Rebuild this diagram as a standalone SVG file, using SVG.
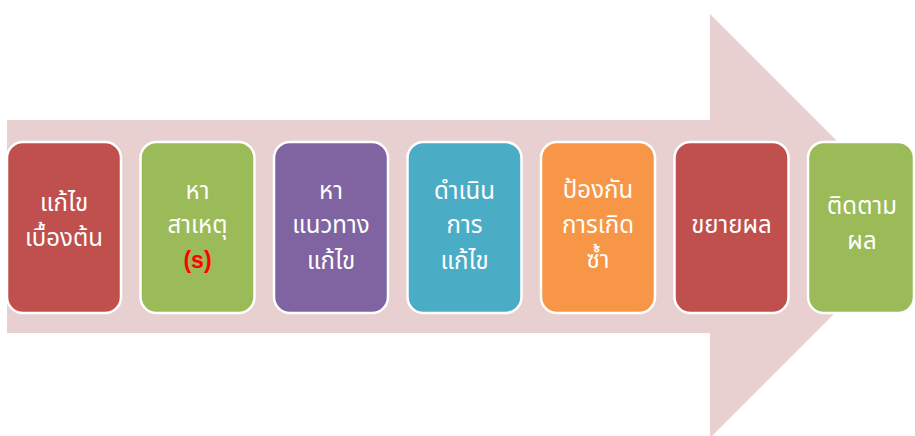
<svg xmlns="http://www.w3.org/2000/svg" width="915" height="436" viewBox="0 0 915 436">
<style>
.box{stroke:#ffffff;stroke-width:2.5}
.t{font-family:"Noto Sans Thai","Noto Sans","DejaVu Sans",sans-serif;font-size:24px;fill:#ffffff;text-anchor:middle}
.s{font-family:"Liberation Sans",Arial,sans-serif;font-size:23px;font-weight:bold;fill:#ff0000;text-anchor:middle}
</style>
<rect width="915" height="436" fill="#ffffff"/>
<g id="arrow">
<polygon points="7,120 710,120 710,14 922,226 710,438 710,333 7,333" fill="#e8cfd0"/>
</g>
<g id="connectors"></g>
<g id="n1">
<rect class="box" x="7" y="142" width="114" height="171" rx="16" fill="#c0504d"/>
<text class="t" x="64" y="211">แก้ไข</text>
<text class="t" x="64" y="246">เบื้องต้น</text>
</g>
<g id="n2">
<rect class="box" x="140.5" y="142" width="114" height="171" rx="16" fill="#9bbb59"/>
<text class="t" x="197.5" y="199">หา</text>
<text class="t" x="197.5" y="233">สาเหตุ</text>
<text class="s" x="197.5" y="268">(s)</text>
</g>
<g id="n3">
<rect class="box" x="274" y="142" width="114" height="171" rx="16" fill="#8064a2"/>
<text class="t" x="331" y="199">หา</text>
<text class="t" x="331" y="233">แนวทาง</text>
<text class="t" x="331" y="269">แก้ไข</text>
</g>
<g id="n4">
<rect class="box" x="407.5" y="142" width="114" height="171" rx="16" fill="#4bacc6"/>
<text class="t" x="464.5" y="199">ดำเนิน</text>
<text class="t" x="464.5" y="233">การ</text>
<text class="t" x="464.5" y="269">แก้ไข</text>
</g>
<g id="n5">
<rect class="box" x="541" y="142" width="114" height="171" rx="16" fill="#f79646"/>
<text class="t" x="598" y="198">ป้องกัน</text>
<text class="t" x="598" y="233">การเกิด</text>
<text class="t" x="598" y="268">ซ้ำ</text>
</g>
<g id="n6">
<rect class="box" x="674.5" y="142" width="114" height="171" rx="16" fill="#c0504d"/>
<text class="t" x="731.5" y="233">ขยายผล</text>
</g>
<g id="n7">
<rect class="box" x="808" y="142" width="106" height="171" rx="16" fill="#9bbb59"/>
<text class="t" x="862" y="214">ติดตาม</text>
<text class="t" x="862" y="249">ผล</text>
</g>
</svg>
